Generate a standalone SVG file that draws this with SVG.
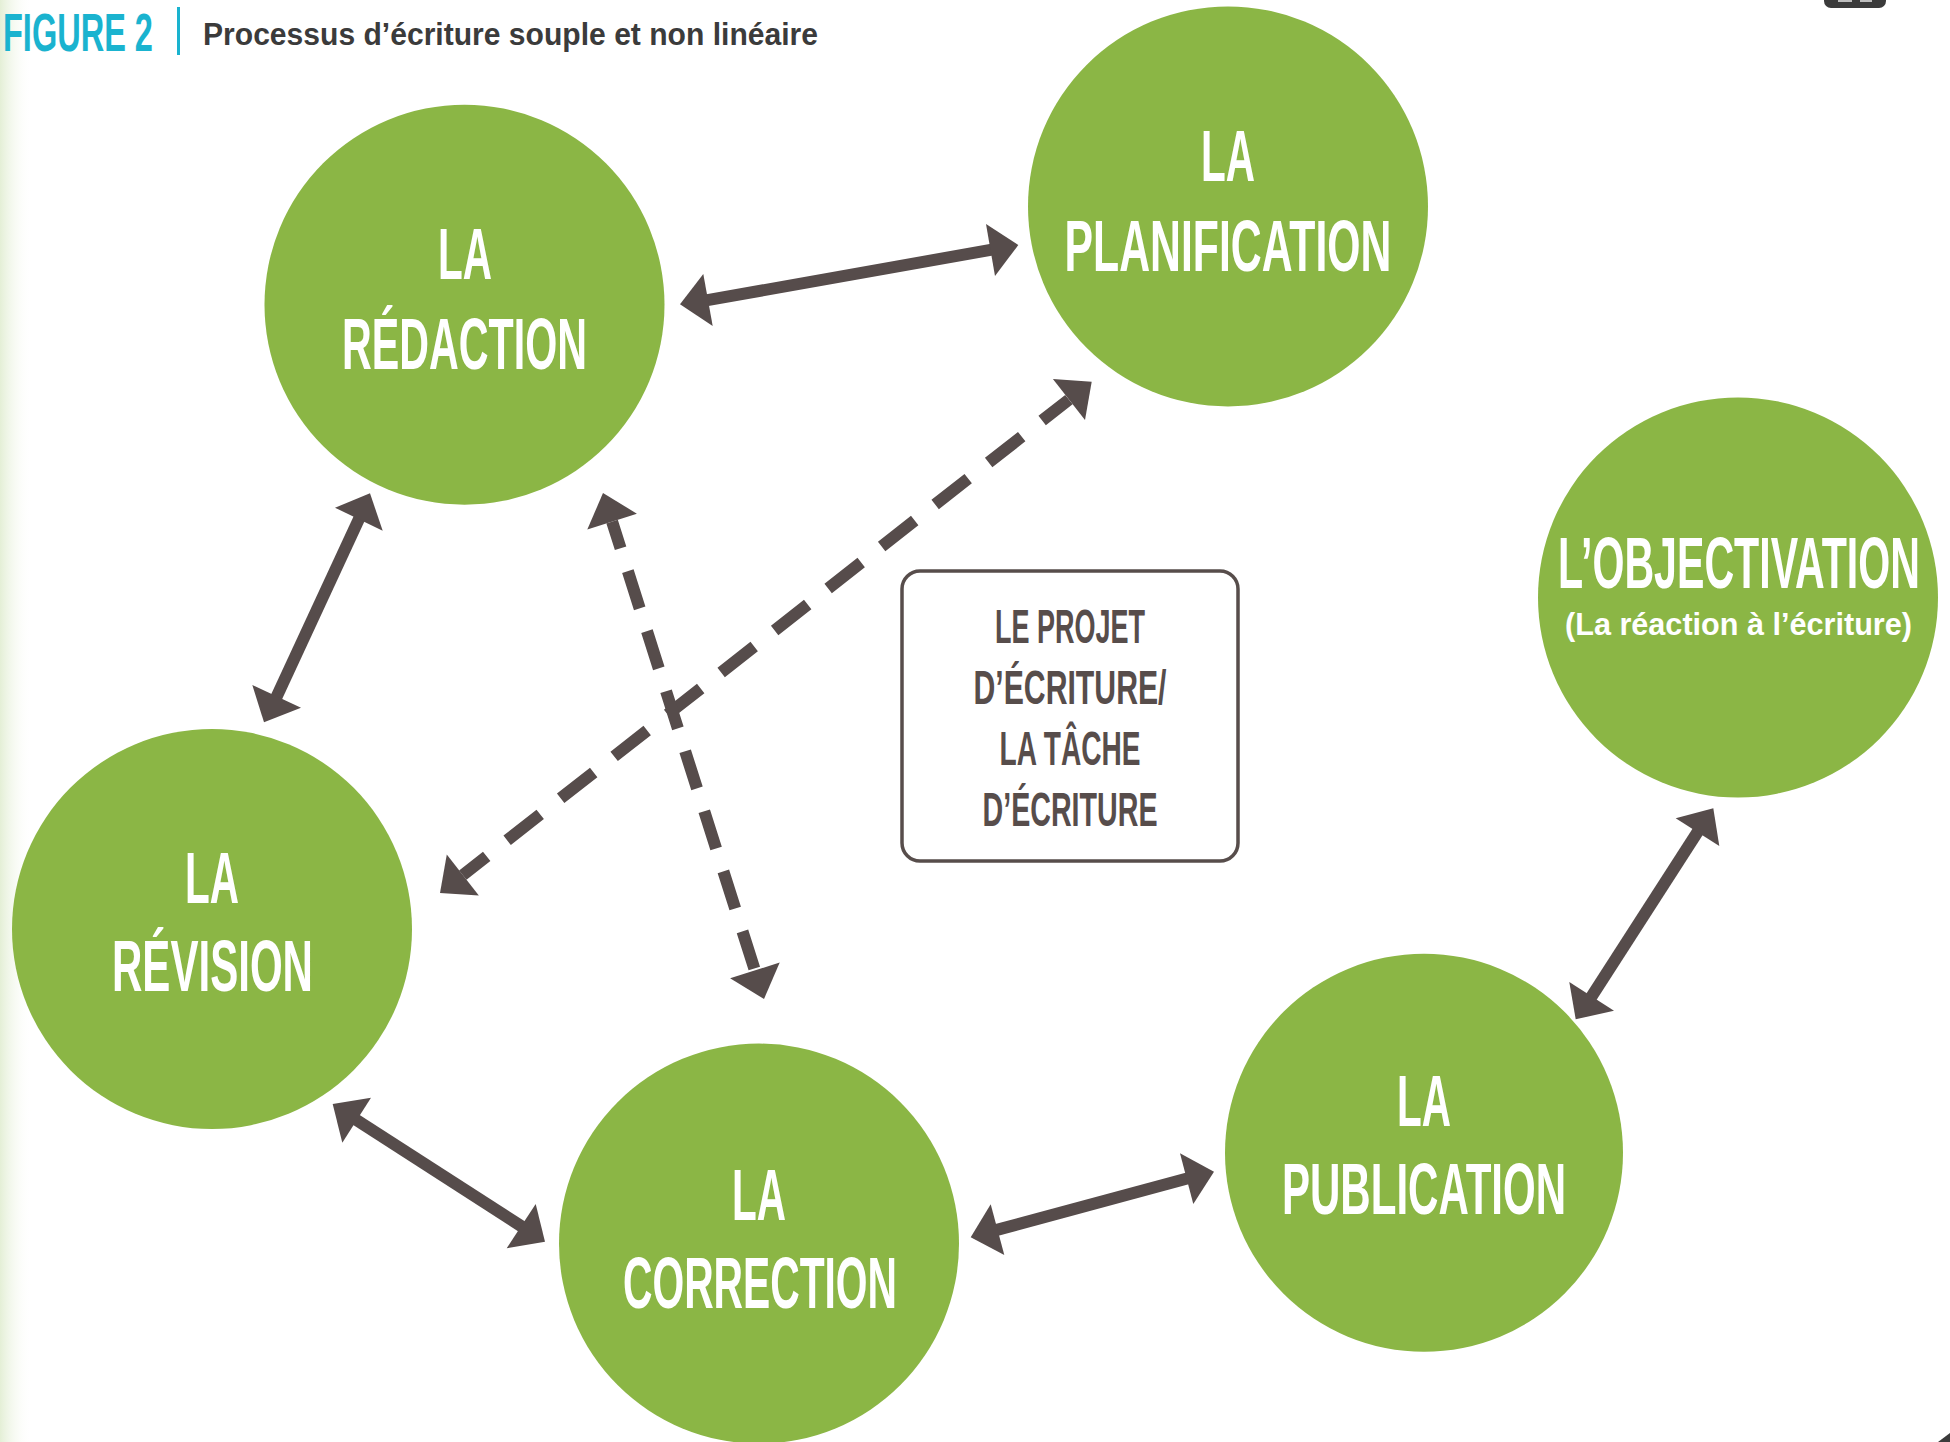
<svg xmlns="http://www.w3.org/2000/svg" width="1950" height="1442" viewBox="0 0 1950 1442">
<defs>
<linearGradient id="edge" x1="0" y1="0" x2="1" y2="0">
<stop offset="0" stop-color="#e4efd6"/>
<stop offset="1" stop-color="#ffffff" stop-opacity="0"/>
</linearGradient>
</defs>
<style>
.bg{fill:#ffffff}
.node circle{fill:#8bb645}
.lbl{fill:#ffffff;font-family:"Liberation Sans Narrow","Liberation Sans",Arial,sans-serif;font-weight:bold;font-size:72px;text-anchor:middle}
.sub{fill:#ffffff;font-family:"Liberation Sans Narrow","Liberation Sans",Arial,sans-serif;font-weight:bold;font-size:31px;text-anchor:middle}
.btxt{fill:#574d4b;font-family:"Liberation Sans Narrow","Liberation Sans",Arial,sans-serif;font-weight:bold;font-size:49px;text-anchor:middle}
.conn line{stroke:#564c4b;stroke-width:12;fill:none}
.conn polygon{fill:#564c4b}
.dash1{stroke-dasharray:42 26;stroke-dashoffset:8}
.dash2{stroke-dasharray:39 24;stroke-dashoffset:11}
.title{fill:#1ab3cf;font-family:"Liberation Sans Narrow","Liberation Sans",Arial,sans-serif;font-weight:bold;font-size:54px}
.subtitle{fill:#3b3b3b;font-family:"Liberation Sans Narrow","Liberation Sans",Arial,sans-serif;font-weight:bold;font-size:32px}
</style>
<rect class="bg" x="0" y="0" width="1950" height="1442"/>
<rect x="0" y="0" width="32" height="1442" fill="url(#edge)"/>

<g id="header">
<text class="title" transform="translate(3,51) scale(0.735,1)" x="0" y="0" textLength="204" lengthAdjust="spacingAndGlyphs">FIGURE 2</text>
<rect x="177" y="7" width="3" height="48" fill="#1ab3cf"/>
<text class="subtitle" x="203" y="45" textLength="615" lengthAdjust="spacingAndGlyphs">Processus d’écriture souple et non linéaire</text>
</g>

<g id="corner-tab">
<rect x="1824" y="-14" width="62" height="22" rx="7" fill="#3b3b3b"/>
<rect x="1838" y="0" width="14" height="2" fill="#bdbdbd"/>
<rect x="1860" y="0" width="12" height="2" fill="#bdbdbd"/>
<polygon points="1938,1442 1950,1433 1950,1442" fill="#3b3b3b"/>
</g>

<g id="redaction" class="node">
<circle cx="464.5" cy="304.7" r="200"/>
<text class="lbl" x="465" y="279" textLength="54" lengthAdjust="spacingAndGlyphs">LA</text>
<text class="lbl" x="464.5" y="369" textLength="245" lengthAdjust="spacingAndGlyphs">RÉDACTION</text>
</g>

<g id="planification" class="node">
<circle cx="1228" cy="206.4" r="200"/>
<text class="lbl" x="1228" y="181" textLength="54" lengthAdjust="spacingAndGlyphs">LA</text>
<text class="lbl" x="1228" y="271" textLength="327" lengthAdjust="spacingAndGlyphs">PLANIFICATION</text>
</g>

<g id="objectivation" class="node">
<circle cx="1738" cy="597.5" r="200"/>
<text class="lbl" transform="translate(1739,588) scale(0.68,1)" x="0" y="0" textLength="532" lengthAdjust="spacingAndGlyphs">L’OBJECTIVATION</text>
<text class="sub" x="1738.5" y="635" textLength="347" lengthAdjust="spacingAndGlyphs">(La réaction à l’écriture)</text>
</g>

<g id="revision" class="node">
<circle cx="212" cy="929" r="200"/>
<text class="lbl" x="212" y="903" textLength="54" lengthAdjust="spacingAndGlyphs">LA</text>
<text class="lbl" x="212.5" y="991" textLength="201" lengthAdjust="spacingAndGlyphs">RÉVISION</text>
</g>

<g id="correction" class="node">
<circle cx="759" cy="1243.6" r="200"/>
<text class="lbl" x="759" y="1220" textLength="54" lengthAdjust="spacingAndGlyphs">LA</text>
<text class="lbl" x="760" y="1308" textLength="274" lengthAdjust="spacingAndGlyphs">CORRECTION</text>
</g>

<g id="publication" class="node">
<circle cx="1424" cy="1152.8" r="199"/>
<text class="lbl" x="1424" y="1126" textLength="54" lengthAdjust="spacingAndGlyphs">LA</text>
<text class="lbl" x="1424" y="1214" textLength="284" lengthAdjust="spacingAndGlyphs">PUBLICATION</text>
</g>

<g id="projet">
<rect x="902" y="571" width="336" height="290" rx="18" fill="#ffffff" stroke="#574d4b" stroke-width="3.5"/>
<text class="btxt" x="1070" y="643" textLength="150" lengthAdjust="spacingAndGlyphs">LE PROJET</text>
<text class="btxt" x="1070" y="704" textLength="193" lengthAdjust="spacingAndGlyphs">D’ÉCRITURE/</text>
<text class="btxt" x="1070" y="765" textLength="141" lengthAdjust="spacingAndGlyphs">LA TÂCHE</text>
<text class="btxt" x="1070" y="826" textLength="175" lengthAdjust="spacingAndGlyphs">D’ÉCRITURE</text>
</g>

<g id="connectors" class="conn">
<line x1="706" y1="300.4" x2="992" y2="249.7"/>
<polygon points="680,304.3 703.3,274 712.7,326"/>
<polygon points="1018.3,245 986,224 995,276"/>

<line x1="360" y1="516.8" x2="275.8" y2="698.5"/>
<polygon points="370,493.3 335,507.7 382.7,530.7"/>
<polygon points="264,722.3 252.3,685 301,707.7"/>

<line x1="354.5" y1="1118.8" x2="523.5" y2="1227.6"/>
<polygon points="332.7,1104 371,1097.7 342.3,1142.7"/>
<polygon points="545,1241.7 535.7,1204 506.7,1248.3"/>

<line x1="995" y1="1230.4" x2="1189" y2="1178"/>
<polygon points="970.7,1237.3 990.7,1204.3 1004.3,1255"/>
<polygon points="1214,1171.7 1180,1153.3 1193.3,1204"/>

<line x1="1699" y1="829.8" x2="1590.3" y2="998.6"/>
<polygon points="1713.3,808.3 1675.7,818.3 1719.3,846"/>
<polygon points="1575.7,1019.3 1569.3,982 1614,1010.7"/>

<line class="dash1" x1="1068.9" y1="399.6" x2="462.8" y2="875.1"/>
<polygon points="1091.7,381.7 1052.9,379.1 1085,420.1"/>
<polygon points="440,893 446.8,854.6 478.8,895.6"/>

<line class="dash2" x1="612.1" y1="521.6" x2="754.9" y2="970.4"/>
<polygon points="603,493 587.3,529.5 636.9,513.7"/>
<polygon points="764,999 730.1,978.3 779.7,962.5"/>
</g>
</svg>
